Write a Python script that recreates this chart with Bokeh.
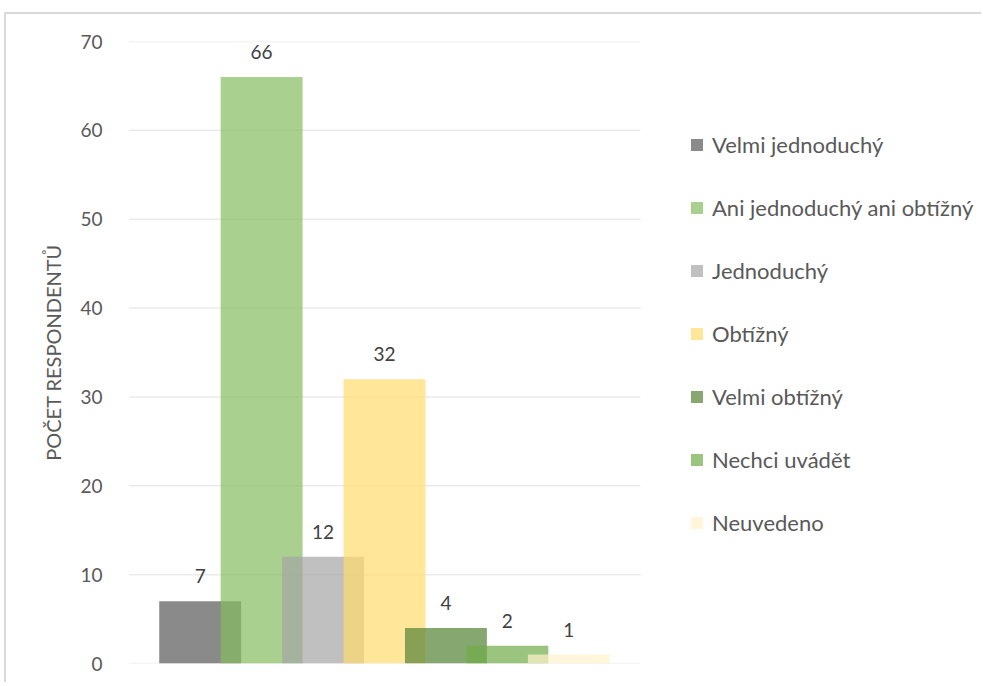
from bokeh.plotting import figure
from bokeh.models import Legend, LegendItem, Range1d, FixedTicker, ColumnDataSource
from bokeh.core.properties import value
from bokeh.embed import file_html
from bokeh.resources import INLINE

categories = ["Velmi jednoduchý", "Ani jednoduchý ani obtížný", "Jednoduchý",
              "Obtížný", "Velmi obtížný", "Nechci uvádět", "Neuvedeno"]
counts = [7, 66, 12, 32, 4, 2, 1]
colors = ["#595959", "#84bc5e", "#a5a5a5", "#ffdb6d", "#548235", "#70ad47", "#fff2cc"]
y_ticks = [0, 10, 20, 30, 40, 50, 60, 70]
y_title = "POČET RESPONDENTŮ"

FONT = "Lato"
STEP = 0.12
WIDTH = 0.16
FRAME_W = 855       # pixels of plotting frame (chart area + legend area)
CHART_W = 512       # pixels of the bar area inside the frame
X_END = FRAME_W / CHART_W

p = figure(width=977, height=670, x_range=Range1d(0, X_END), y_range=Range1d(0, 70),
           output_backend="svg", toolbar_location=None,
           min_border_left=122, min_border_right=0, min_border_top=27, min_border_bottom=21)
p.styles = {"margin-left": "4px", "margin-top": "12px",
            "border-left": "2px solid #d9d9d9", "border-top": "2px solid #d9d9d9"}
p.outline_line_color = None
p.background_fill_color = "white"
p.border_fill_color = "white"

p.xaxis.visible = False
p.xgrid.visible = False
p.ygrid.visible = False

# horizontal gridlines only across the bar area
p.segment(x0=0, x1=1, y0=y_ticks, y1=y_ticks, line_color="#ebebeb", line_width=1.5)

ya = p.yaxis[0]
ya.ticker = FixedTicker(ticks=y_ticks)
ya.axis_line_color = None
ya.major_tick_line_color = None
ya.minor_tick_line_color = None
ya.major_tick_out = 0
ya.major_label_standoff = 26
ya.major_label_text_font = FONT
ya.major_label_text_font_size = "19px"
ya.major_label_text_color = "#595959"
ya.axis_label = y_title
ya.axis_label_text_font = FONT
ya.axis_label_text_font_style = "normal"
ya.axis_label_text_font_size = "20px"
ya.axis_label_text_color = "#595959"
ya.axis_label_standoff = 12

n = len(categories)
xs = [0.5 + (i - (n - 1) / 2) * STEP for i in range(n)]

items = []
for i, (cat, cnt, col) in enumerate(zip(categories, counts, colors)):
    src = ColumnDataSource(dict(x=[xs[i]], top=[cnt]))
    r = p.vbar(x="x", top="top", bottom=0, width=WIDTH, source=src,
               fill_color=col, fill_alpha=0.7, line_color=None)
    items.append(LegendItem(label=cat, renderers=[r]))

lab_src = ColumnDataSource(dict(x=xs, y=counts, lab=[str(c) for c in counts]))
p.text(x="x", y="y", text="lab", source=lab_src, text_align="center",
       text_baseline="bottom", y_offset=-18, text_font=value(FONT),
       text_font_size="19px", text_color="#404040")

legend = Legend(items=items, location=(561, 127), orientation="vertical",
                border_line_color=None, background_fill_alpha=0,
                padding=0, margin=0, spacing=35, glyph_width=15, glyph_height=15,
                label_standoff=8, label_height=28, label_text_font=FONT,
                label_text_font_size="22px", label_text_color="#595959")
p.add_layout(legend)

open("out.html", "w").write(file_html(p, INLINE))
